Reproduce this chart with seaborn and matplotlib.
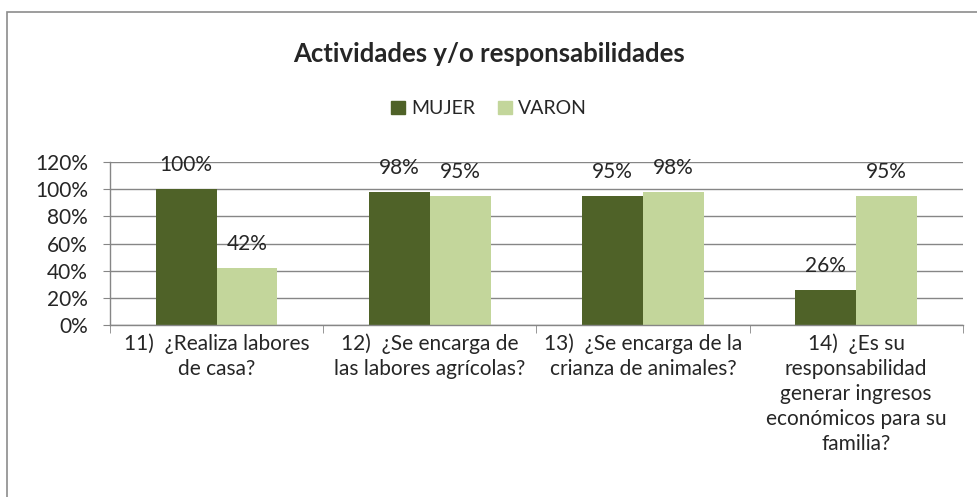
import pandas as pd
import matplotlib
matplotlib.use("Agg")
import matplotlib.pyplot as plt
import seaborn as sns
from matplotlib.ticker import PercentFormatter, FixedLocator
from matplotlib.patches import Rectangle

# data
preguntas = [
    "11)  ¿Realiza labores\nde casa?",
    "12)  ¿Se encarga de\nlas labores agrícolas?",
    "13)  ¿Se encarga de la\ncrianza de animales?",
    "14)  ¿Es su\nresponsabilidad\ngenerar ingresos\neconómicos para su\nfamilia?",
]
mujer = [1.00, 0.98, 0.95, 0.26]
varon = [0.42, 0.95, 0.98, 0.95]
grupos = ["MUJER", "VARON"]
colores = ["#4F6228", "#C3D69B"]

df = pd.DataFrame({
    "pregunta": preguntas * 2,
    "grupo": ["MUJER"] * 4 + ["VARON"] * 4,
    "valor": mujer + varon,
})

sns.set_style("white")
plt.rcParams["font.family"] = ["Lato", "DejaVu Sans"]

fig = plt.figure(figsize=(9.78, 4.97), dpi=100)
ax = fig.add_axes([0.1125, 0.346, 0.872, 0.328])

sns.barplot(data=df, x="pregunta", y="valor", hue="grupo", hue_order=grupos,
            palette=colores, width=0.57, saturation=1, linewidth=0,
            ax=ax, legend=False)

ax.set_ylim(0, 1.2)
ax.set_xlim(-0.5, 3.5)
ax.yaxis.set_major_formatter(PercentFormatter(1.0, decimals=0))
ax.set_yticks([0, 0.2, 0.4, 0.6, 0.8, 1.0, 1.2])
ax.grid(axis="y", color="#868686", linewidth=1)
ax.set_axisbelow(True)
ax.set_xlabel("")
ax.set_ylabel("")

for s in ["top", "right"]:
    ax.spines[s].set_visible(False)
for s in ["left", "bottom"]:
    ax.spines[s].set_color("#868686")
    ax.spines[s].set_linewidth(1)

ax.tick_params(axis="y", left=True, length=5, color="#868686", labelsize=15, pad=11)
ax.tick_params(axis="x", which="major", length=0, labelsize=15, pad=6)
for lbl in ax.get_xticklabels():
    lbl.set_linespacing(1.32)
ax.xaxis.set_minor_locator(FixedLocator([-0.5, 0.5, 1.5, 2.5, 3.5]))
ax.tick_params(axis="x", which="minor", bottom=True, length=6, color="#868686")

# value labels
for cont in ax.containers:
    for bar in cont:
        h = bar.get_height()
        ax.annotate(f"{h:.0%}", (bar.get_x() + bar.get_width() / 2, h),
                    xytext=(0, 10), textcoords="offset points",
                    ha="center", va="bottom", fontsize=15)

# legend
handles = [Rectangle((0, 0), 1, 1, color=c) for c in colores]
fig.legend(handles, grupos, loc="center", bbox_to_anchor=(0.5, 0.781), ncol=2,
           frameon=False, fontsize=14, handlelength=0.7, handleheight=0.7,
           handletextpad=0.3, columnspacing=1.2)

fig.text(0.5, 0.891, "Actividades y/o responsabilidades", ha="center", va="center",
         fontsize=18.5, fontweight="bold")

# chart frame
fig.patches.append(Rectangle((0.007, -0.05), 1.0, 1.025, transform=fig.transFigure,
                             fill=False, edgecolor="#8c8c8c", linewidth=1.2))

fig.savefig("out.png", dpi=100)
